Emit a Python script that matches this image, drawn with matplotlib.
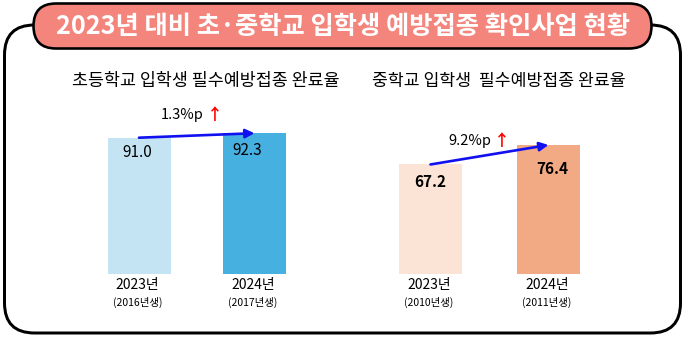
import matplotlib
matplotlib.use("Agg")
import matplotlib.pyplot as plt
from matplotlib.patches import FancyBboxPatch

plt.rcParams['font.family'] = ['Noto Sans CJK KR', 'DejaVu Sans']

# ---- data ----
title = "2023년 대비 초·중학교 입학생 예방접종 확인사업 현황"
left_title = "초등학교 입학생 필수예방접종 완료율"
right_title = "중학교 입학생  필수예방접종 완료율"
left_years = ["2023년", "2024년"]
left_cohorts = ["(2016년생)", "(2017년생)"]
left_values = [91.0, 92.3]
right_years = ["2023년", "2024년"]
right_cohorts = ["(2010년생)", "(2011년생)"]
right_values = [67.2, 76.4]
left_colors = ["#C4E4F3", "#46B1E1"]
right_colors = ["#FBE3D6", "#F1AA84"]

W, H = 686, 340
DPI = 100
fig = plt.figure(figsize=(W / DPI, H / DPI), dpi=DPI)
PT = 72.0 / DPI  # points per pixel

# background axes in pixel coordinates (y downwards)
bg = fig.add_axes([0, 0, 1, 1])
bg.set_xlim(0, W)
bg.set_ylim(H, 0)
bg.axis('off')

frame = FancyBboxPatch((4.5 + 30, 25 + 30), 676 - 60, 308 - 60,
                       boxstyle="round,pad=30", facecolor='white',
                       edgecolor='black', linewidth=3 * PT, zorder=1)
bg.add_patch(frame)
pill = FancyBboxPatch((33 + 23, 3.5 + 22.5), 619 - 46, 45 - 45,
                      boxstyle="round,pad=22.5", facecolor='#F3857D',
                      edgecolor='black', linewidth=2.6 * PT, zorder=2)
bg.add_patch(pill)
bg.text(343, 27, title, ha='center', va='center', color='white',
        fontsize=18.2, fontweight='bold', zorder=3)


def panel(x0, x1, ylim, values, colors, years, cohorts, subtitle, sub_x, sub_fs,
          bold_vals, val_dx, val_dy, diff_x, diff_y):
    top_px, bot_px = 100, 274
    ax = fig.add_axes([x0 / W, (H - bot_px) / H, (x1 - x0) / W,
                       (bot_px - top_px) / H])
    ax.set_xlim(-0.5, 1.5)
    ax.set_ylim(*ylim)
    ax.axis('off')
    xs = list(range(len(values)))
    width = 63 / ((x1 - x0) / 2.0)
    ax.bar(xs, [v - ylim[0] for v in values], bottom=ylim[0], width=width,
           color=colors, zorder=2)
    for i, v in enumerate(values):
        ax.annotate(f"{v:.1f}", xy=(i, v), xytext=(val_dx[i] * PT, -val_dy[i] * PT),
                    textcoords='offset points', ha='center', va='center',
                    fontsize=11, fontweight='bold' if bold_vals else 'normal',
                    color='black', zorder=4)
        ax.annotate(years[i], xy=(i, 0), xycoords=('data', 'axes fraction'),
                    xytext=(-1.5 * PT, -11 * PT), textcoords='offset points',
                    ha='center', va='center', fontsize=10, zorder=4)
        ax.annotate(cohorts[i], xy=(i, 0), xycoords=('data', 'axes fraction'),
                    xytext=(-1.5 * PT, -28 * PT), textcoords='offset points',
                    ha='center', va='center', fontsize=7.5, zorder=4)
    ax.annotate('', xy=(1, values[1]), xytext=(0, values[0]),
                arrowprops=dict(arrowstyle='-|>', color='#1010F0', lw=1.9,
                                mutation_scale=13, shrinkA=0, shrinkB=0),
                annotation_clip=False, zorder=5)
    diff = values[1] - values[0]
    bg.text(diff_x, diff_y, f"{diff:.1f}%p", ha='right', va='center',
            fontsize=10.5, color='black', zorder=5)
    bg.text(diff_x + 3, diff_y, "↑", ha='left', va='center',
            fontsize=11.5, fontweight='bold', color='#FF0000', zorder=5)
    bg.text(sub_x, 81, subtitle, ha='left', va='center', fontsize=sub_fs,
            color='black', zorder=5)
    return ax


panel(81.25, 312.25, (51.6, 101.9), left_values, left_colors, left_years,
      left_cohorts, left_title, 72, 12.5, False, [-2, -7], [15, 17], 204, 115)
panel(371.5, 607.5, (15.55, 97.6), right_values, right_colors, right_years,
      right_cohorts, right_title, 372, 12.4, True, [0, 3.5], [18, 24.5], 491, 141)

fig.savefig("out.png", dpi=DPI)
